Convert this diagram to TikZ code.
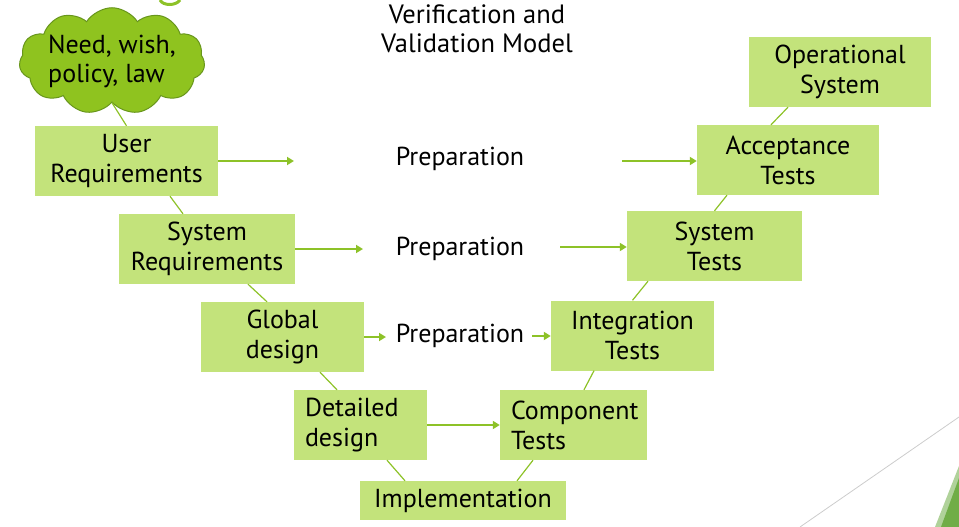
\documentclass[tikz,border=0pt]{standalone}
\usepackage{fontspec}
\setmainfont{PT Sans}
\usetikzlibrary{shapes.symbols,arrows.meta}

\definecolor{boxgreen}{RGB}{195,227,123}
\definecolor{linegreen}{RGB}{141,194,40}
\definecolor{cloudgreen}{RGB}{143,195,31}
\definecolor{cloudedge}{RGB}{104,150,28}
\definecolor{decogreen}{RGB}{112,173,71}

\tikzset{
  phase/.style={fill=boxgreen, minimum height=70pt, inner sep=0pt, align=center,
    font=\fontsize{26}{30}\selectfont},
  prep/.style={inner sep=0pt, font=\fontsize{26}{30}\selectfont},
  arr/.style={linegreen, line width=2.8pt, -{Triangle[length=7pt,width=8pt]}},
  link/.style={linegreen, line width=1.2pt}
}

\begin{document}
\begin{tikzpicture}[x=1pt,y=-1pt]
  \useasboundingbox (0,0) rectangle (959,527);

  % title
  \node[align=center, font=\fontsize{26.5}{29}\selectfont] (title) at (477,29)
    {Verification and\\Validation Model};

  % the cloud on top
  \node[cloud, cloud puffs=11, cloud puff arc=115, aspect=2.2, fill=cloudgreen,
    draw=cloudedge, line width=1pt, minimum width=181pt, minimum height=84pt,
    inner sep=0pt, align=left, font=\fontsize{26}{29}\selectfont] (need) at (112,61)
    {Need, wish,\\policy, law};

  % left leg of the V
  \node[phase, minimum width=183pt] (ureq) at (126.5,161) {User\\Requirements};
  \node[phase, minimum width=176pt] (sreq) at (207,249) {System\\Requirements};
  \node[phase, minimum width=163pt] (gdes) at (282.5,337) {Global\\design};
  \node[phase, text width=111pt, inner xsep=11pt, align=left] (ddes) at (360.5,425)
    {Detailed\\design};
  \node[phase, minimum width=206pt, minimum height=39pt] (impl) at (463,500.5)
    {Implementation};

  % right leg of the V
  \node[phase, text width=125pt, inner xsep=11pt, align=left] (ctst) at (573.5,425)
    {Component\\Tests};
  \node[phase, minimum width=163pt] (itst) at (632.5,335.5) {Integration\\Tests};
  \node[phase, minimum width=175pt] (stst) at (714.5,246) {System\\Tests};
  \node[phase, minimum width=182pt] (atst) at (788,160) {Acceptance\\Tests};
  \node[phase, minimum width=182pt] (opsy) at (840,72) {Operational\\System};

  % preparation labels
  \node[prep] (prep1) at (460,159) {Preparation};
  \node[prep] (prep2) at (460,249) {Preparation};
  \node[prep] (prep3) at (460,336) {Preparation};

  % free ends of the arrows
  \coordinate (out1) at (294,161);
  \coordinate (out2) at (363,249);
  \coordinate (out3) at (386,337);
  \coordinate (in1) at (622,161);
  \coordinate (in2) at (560,247);
  \coordinate (in3) at (532,336);

  \draw[arr] (ureq.east |- out1) -- (out1);
  \draw[arr] (sreq.east |- out2) -- (out2);
  \draw[arr] (gdes.east |- out3) -- (out3);
  \draw[arr] (in1) -- (atst.west |- in1);
  \draw[arr] (in2) -- (stst.west |- in2);
  \draw[arr] (in3) -- (itst.west |- in3);
  \draw[arr] (ddes.east) -- (ctst.west);

  % thin links between the steps
  \foreach \a/\da/\b/\db in {need/0/ureq/0, ureq/43.5/sreq/-24, sreq/41/gdes/-15.5,
      gdes/37.5/ddes/-23.5, ddes/26.5/impl/-58, ctst/-40.5/impl/54,
      itst/-38.5/ctst/10.5, stst/-66.5/itst/0, atst/-61/stst/0, opsy/-52/atst/-17}
    \draw[link] ([xshift=\da pt]\a.south) -- ([xshift=\db pt]\b.north);

  % slide decoration
  \draw[black!20, line width=0.8pt] (800,527) -- (959,417);
  \fill[decogreen!55] (935,527) -- (959,466) -- (959,527) -- cycle;
  \fill[decogreen] (941,527) -- (959,478) -- (959,527) -- cycle;
  \draw[linegreen, line width=3pt] (160,0) .. controls (163,6) and (176,6) .. (180,0);
\end{tikzpicture}
\end{document}
